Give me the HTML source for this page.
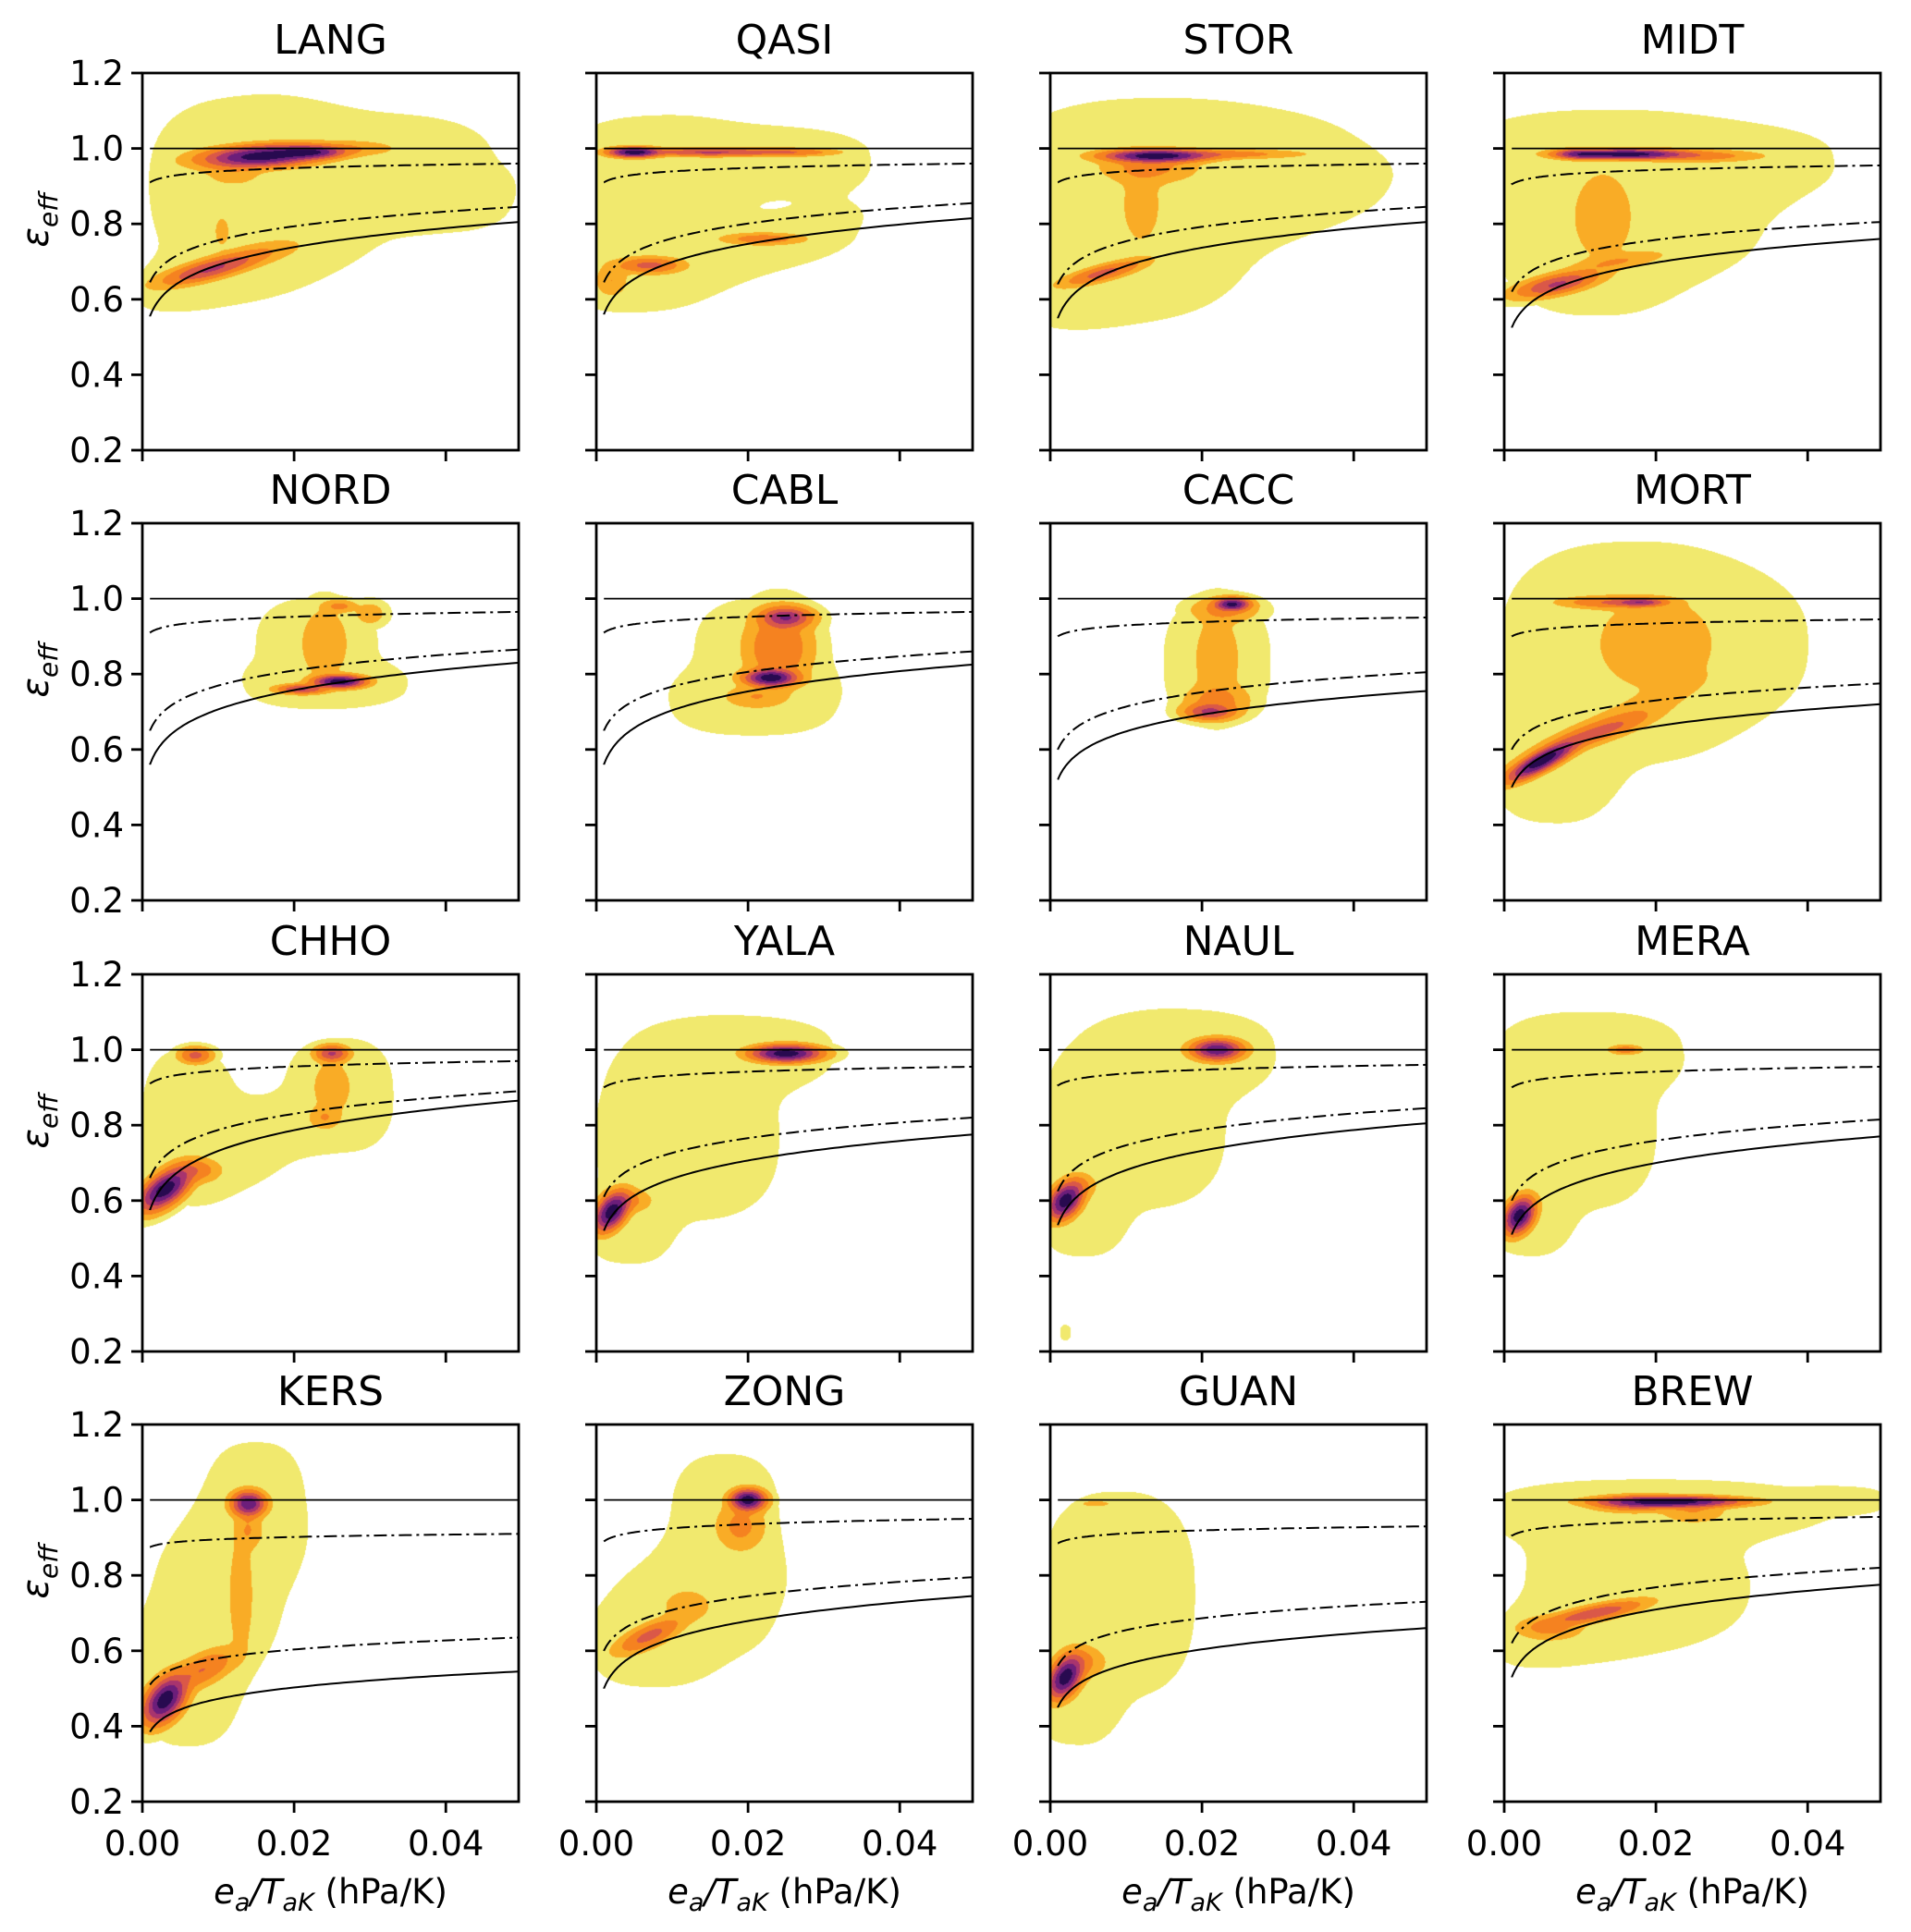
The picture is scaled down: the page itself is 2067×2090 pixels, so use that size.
<!DOCTYPE html>
<html><head><meta charset="utf-8">
<style>
html,body{margin:0;padding:0;background:#fff;}
#wrap{position:relative;width:2067px;height:2090px;overflow:hidden;}
canvas{position:absolute;}
svg{position:absolute;left:0;top:0;}
text{font-family:"DejaVu Sans","Liberation Sans",sans-serif;fill:#000;}
</style></head>
<body>
<div id="wrap">
<svg id="svg" width="2067" height="2090"></svg>
</div>
<script>
// ---- data ----
const stations = ["LANG","QASI","STOR","MIDT","NORD","CABL","CACC","MORT","CHHO","YALA","NAUL","MERA","KERS","ZONG","GUAN","BREW"];
const xTicks = [0.00, 0.02, 0.04];
const xTickLabels = ["0.00","0.02","0.04"];
const yTicks = [0.2,0.4,0.6,0.8,1.0,1.2];
const yTickLabels = ["0.2","0.4","0.6","0.8","1.0","1.2"];
// curve values at x=0.001 and x=0.0495 : solid, lower dash-dot, upper dash-dot
const solidStart = [.555,.56,.55,.525,.56,.56,.52,.50,.575,.52,.535,.51,.385,.50,.45,.53];
const solidEnd   = [.805,.815,.805,.76,.83,.825,.755,.72,.865,.775,.805,.77,.545,.745,.66,.775];
const lowDDStart = [.645,.645,.64,.62,.65,.65,.60,.60,.66,.61,.625,.60,.51,.60,.56,.62];
const lowDDEnd   = [.845,.855,.845,.805,.865,.86,.805,.775,.89,.82,.845,.815,.635,.795,.73,.82];
const upDDStart  = [.91,.91,.91,.905,.91,.91,.90,.90,.91,.90,.905,.90,.875,.89,.885,.905];
const upDDEnd    = [.96,.96,.96,.955,.965,.965,.95,.945,.97,.955,.96,.955,.91,.95,.93,.955];
// density plateaus [x, y, halfwidthX, halfwidthY, shear]
const plateaus = [
 [[.012,.87,.010,.22,0],[.03,.96,.016,.13,0],[.015,.69,.013,.06,5],[.04,.86,.006,.06,0]],
 [[.018,.97,.018,.09,0],[.007,.8,.008,.2,0],[.017,.72,.017,.07,3.5]],
 [[.02,.98,.02,.12,0],[.012,.8,.012,.22,0],[.024,.83,.014,.08,3],[.01,.66,.01,.08,5]],
 [[.02,.97,.023,.1,0],[.012,.78,.012,.22,0],[.02,.8,.012,.1,0]],
 [[.023,.87,.008,.13,0],[.025,.77,.008,.04,0]],
 [[.022,.85,.009,.15,0],[.02,.72,.008,.06,0]],
 [[.022,.83,.007,.17,0]],
 [[.016,.85,.015,.28,0],[.024,.88,.013,.14,0],[.006,.55,.006,.12,0]],
 [[.006,.8,.006,.2,0],[.011,.74,.006,.08,0],[.026,.88,.007,.15,0],[.018,.8,.006,.05,4]],
 [[.012,.77,.012,.22,0],[.02,1.0,.01,.07,0],[.004,.52,.004,.07,0]],
 [[.011,.8,.012,.22,0],[.019,1.0,.009,.08,0],[.004,.55,.004,.08,0],[.002,.25,.0007,.02,0]],
 [[.01,.8,.01,.22,0],[.012,1.0,.009,.07,0],[.003,.55,.004,.08,0]],
 [[.006,.5,.006,.15,0],[.01,.75,.008,.17,0],[.015,1.0,.006,.15,0]],
 [[.012,.7,.01,.12,0],[.017,.95,.007,.17,0],[.007,.6,.006,.08,0]],
 [[.009,.75,.01,.27,0],[.003,.48,.004,.1,0]],
 [[.022,.98,.02,.06,0],[.017,.8,.014,.16,0],[.012,.66,.011,.07,4],[.045,1.0,.004,.025,0]]
];
// density peaks [x, y, sigmaX, sigmaY, shear, weight]
const peaks = [
 [[.016,.98,.007,.025,1,1],[.022,.99,.004,.015,0,.9],[.027,1.0,.006,.02,0,.4],[.012,.94,.004,.04,0,.35],[.009,.68,.006,.025,5,.7],[.015,.72,.006,.03,4,.38],[.0105,.78,.001,.04,0,.35]],
 [[.005,.99,.003,.012,0,1],[.015,.99,.008,.01,0,.7],[.025,.99,.006,.01,0,.55],[.007,.69,.004,.02,0,.6],[.022,.76,.005,.015,0,.5],[.002,.65,.002,.04,0,.4]],
 [[.014,.98,.006,.015,0,1],[.013,.95,.006,.04,0,.45],[.022,.985,.01,.012,0,.5],[.007,.67,.005,.02,5,.6],[.012,.85,.003,.12,0,.33]],
 [[.016,.985,.007,.012,0,1],[.01,.985,.003,.012,0,.8],[.025,.98,.008,.015,0,.5],[.013,.82,.004,.12,0,.38],[.007,.64,.005,.025,4,.7],[.015,.7,.006,.02,3,.4]],
 [[.026,.78,.003,.015,0,1],[.021,.76,.003,.012,0,.7],[.024,.88,.003,.09,0,.4],[.03,.96,.002,.03,0,.35],[.026,.98,.002,.015,0,.45]],
 [[.023,.79,.003,.02,0,1],[.025,.95,.003,.025,0,.8],[.024,.87,.004,.09,0,.55],[.021,.74,.004,.03,0,.4]],
 [[.024,.985,.002,.015,0,.95],[.021,.7,.003,.02,0,.7],[.022,.84,.003,.12,0,.38],[.023,.97,.004,.03,0,.45],[.022,.73,.004,.04,0,.45]],
 [[.02,.88,.008,.13,0,.38],[.014,.99,.006,.015,0,.55],[.018,.99,.003,.01,0,.75],[.012,.65,.012,.04,9,.4],[.005,.57,.004,.025,10,1],[.013,.65,.006,.025,6,.55]],
 [[.003,.63,.003,.04,10,1],[.007,.68,.003,.03,0,.5],[.007,.985,.002,.02,0,.6],[.025,.99,.002,.02,0,.7],[.025,.9,.0025,.07,0,.38],[.024,.82,.002,.03,0,.4]],
 [[.025,.99,.004,.02,0,1],[.002,.57,.002,.04,10,1],[.004,.6,.003,.03,0,.45]],
 [[.022,1.0,.003,.025,0,.9],[.002,.6,.002,.04,8,1],[.004,.64,.002,.03,0,.4]],
 [[.016,1.0,.002,.012,0,.5],[.002,.56,.0018,.04,8,1]],
 [[.003,.47,.0025,.05,10,1],[.008,.55,.004,.04,8,.55],[.013,.75,.0015,.15,0,.4],[.014,.99,.002,.03,0,.9],[.014,.92,.0018,.05,0,.4]],
 [[.02,1.0,.002,.025,0,1],[.019,.93,.003,.06,0,.45],[.007,.64,.004,.03,8,.6],[.012,.72,.003,.04,0,.38]],
 [[.002,.53,.002,.045,10,1],[.004,.57,.003,.04,0,.45],[.006,.99,.002,.008,0,.35]],
 [[.022,.995,.008,.013,0,1],[.017,.99,.005,.02,0,.6],[.025,.97,.004,.03,0,.4],[.012,.7,.006,.02,4,.65],[.006,.66,.004,.03,0,.45]]
];
const levels = [0.12,0.25,0.4,0.55,0.68,0.8,0.92];
const levelColors = [[241,233,110],[249,172,38],[245,130,32],[218,88,72],[168,52,110],[108,30,122],[40,10,80]];

// ---- layout ----
const colL=[154,645,1136,1627], rowT=[79,566,1054,1541], PW=407, PH=408;
const XMAX=0.0496, YMIN=0.2, YMAX=1.2;
const NS="http://www.w3.org/2000/svg";
const svg=document.getElementById('svg');
function mk(tag,attrs,parent){const e=document.createElementNS(NS,tag);for(const k in attrs)e.setAttribute(k,attrs[k]);(parent||svg).appendChild(e);return e;}

stations.forEach((name,i)=>{
  const c=i%4, r=Math.floor(i/4);
  const L=colL[c], T=rowT[r];
  const xs=v=>L+v/XMAX*PW, ys=v=>T+(YMAX-v)/(YMAX-YMIN)*PH;
  const cv=document.createElement('canvas');
  cv.width=PW;cv.height=PH;cv.style.left=L+'px';cv.style.top=T+'px';
  
  
  document.getElementById('wrap').insertBefore(cv,svg);
  const ctx=cv.getContext('2d');const img=ctx.createImageData(PW,PH);const d=img.data;
  const pl=plateaus[i], pk=peaks[i];
  for(let py=0;py<PH;py++){
    const yv=YMAX-(py+0.5)/PH*(YMAX-YMIN);
    for(let px=0;px<PW;px++){
      const xv=(px+0.5)/PW*XMAX;
      let fp=0;
      for(const p of pl){const dx=Math.abs((xv-p[0])/p[2]), dy=Math.abs((yv-(p[1]+p[4]*(xv-p[0])))/p[3]);
        fp+=0.2*Math.exp(-(Math.pow(dx,2.6)+Math.pow(dy,2.6))/2);}
      fp=Math.min(fp,0.22);
      let s3=0;
      for(const p of pk){const dx=(xv-p[0])/p[2], dy=(yv-(p[1]+p[4]*(xv-p[0])))/p[3];
        const v=p[5]*Math.exp(-(dx*dx+dy*dy)/2);s3+=v*v*v;}
      const f=Math.max(fp,Math.cbrt(s3));
      let lv=-1;for(let k=0;k<levels.length;k++)if(f>=levels[k])lv=k;
      const o=(py*PW+px)*4;
      if(lv>=0){const col=levelColors[lv];d[o]=col[0];d[o+1]=col[1];d[o+2]=col[2];d[o+3]=255;}
    }
  }
  ctx.putImageData(img,0,0);

  const g=mk('g',{});
  
  
  const curve=(y0,y1,dash,nm)=>{
    const b=Math.log(y1/y0)/Math.log(49.5);let pts=[];
    for(let k=0;k<=120;k++){const xv=0.001+(0.0495-0.001)*Math.pow(k/120,2);pts.push(xs(xv).toFixed(1)+','+ys(y0*Math.pow(xv/0.001,b)).toFixed(1));}
    const e=mk('polyline',{points:pts.join(' '),fill:'none',stroke:'#000','stroke-width':2,'stroke-dasharray':dash},g);
    
    
  };
  curve(solidStart[i],solidEnd[i],'none','solid-curve');
  curve(lowDDStart[i],lowDDEnd[i],'14,5,3,5','lower-dashdot-curve');
  curve(upDDStart[i],upDDEnd[i],'14,5,3,5','upper-dashdot-curve');
  const hl=mk('line',{x1:xs(0.001),x2:L+PW,y1:ys(1.0),y2:ys(1.0),stroke:'#000','stroke-width':1.8},g);
  
  
  const fr=mk('rect',{x:L,y:T,width:PW,height:PH,fill:'none',stroke:'#000','stroke-width':2.8},g);
  
  
  yTicks.forEach((v,k)=>{
    const t=mk('line',{x1:L-12,x2:L,y1:ys(v),y2:ys(v),stroke:'#000','stroke-width':2.8},g);
    
    
    if(c===0){const tl=mk('text',{x:L-20,y:ys(v)+13,'font-size':37,'text-anchor':'end'},g);tl.textContent=yTickLabels[k];
      
      }
  });
  xTicks.forEach((v,k)=>{
    const t=mk('line',{x1:xs(v),x2:xs(v),y1:T+PH,y2:T+PH+12,stroke:'#000','stroke-width':2.8},g);
    
    
    if(r===3){const tl=mk('text',{x:xs(v),y:T+PH+58,'font-size':37,'text-anchor':'middle'},g);tl.textContent=xTickLabels[k];
      
      }
  });
  const tt=mk('text',{x:L+PW/2,y:T-21,'font-size':44,'text-anchor':'middle'},g);tt.textContent=name;
  
  
  if(c===0){
    const yl=mk('text',{transform:`translate(52,${T+PH*0.39}) rotate(-90)`,'font-size':40,'text-anchor':'middle','font-style':'italic'},g);
    yl.innerHTML='ε<tspan font-size="28" dy="10">eff</tspan>';
    
    
  }
  if(r===3){
    const xl=mk('text',{x:L+PW/2,y:T+PH+110,'font-size':37,'text-anchor':'middle'},g);
    xl.innerHTML='<tspan font-style="italic">e</tspan><tspan font-style="italic" font-size="27" dy="8">a</tspan><tspan dy="-8" font-style="italic">/T</tspan><tspan font-style="italic" font-size="27" dy="8">aK</tspan><tspan dy="-8"> (hPa/K)</tspan>';
    
    
  }
});
</script>
</body></html>
